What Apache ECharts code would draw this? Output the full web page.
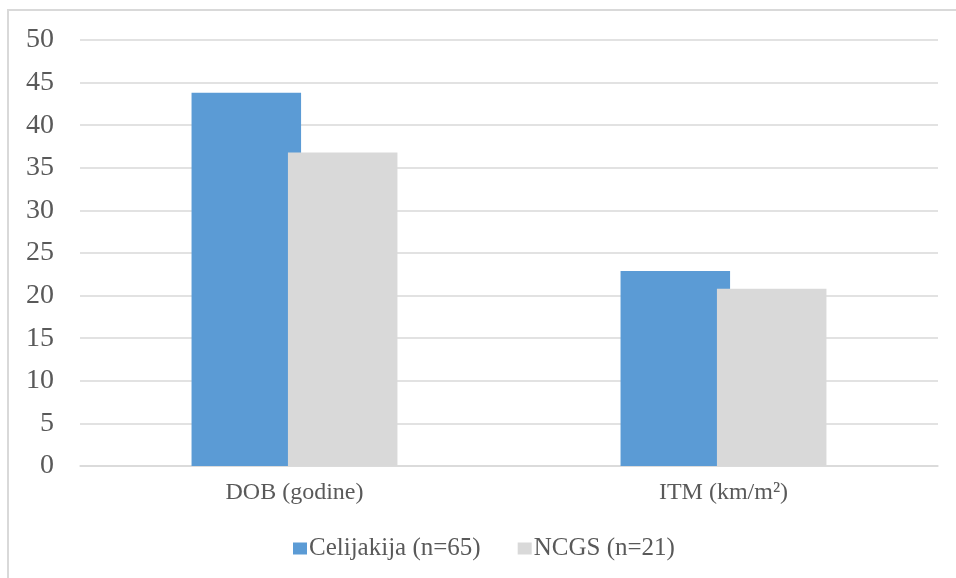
<!DOCTYPE html>
<html>
<head>
<meta charset="utf-8">
<script src="https://cdn.jsdelivr.net/npm/echarts@6/dist/echarts.min.js"></script>
<style>
html,body{margin:0;padding:0;background:#fff;}
#wrap{position:relative;width:956px;height:578px;overflow:hidden;}
#border{position:absolute;left:7px;top:9px;width:1000px;height:1000px;border:2px solid #d9d9d9;box-sizing:border-box;}
#chart{position:absolute;left:0;top:0;width:956px;height:578px;}
</style>
</head>
<body>
<div id="wrap"><div id="border"></div><div id="chart"></div></div>
<script>
const categories = ['DOB (godine)', 'ITM (km/m²)'];
const seriesNames = ['Celijakija (n=65)', 'NCGS (n=21)'];
const celijakija = [43.8, 22.9];
const ncgs = [36.8, 20.8];
const yTicks = [0, 5, 10, 15, 20, 25, 30, 35, 40, 45, 50];

const chart = echarts.init(document.getElementById('chart'), null, {renderer: 'canvas'});
const font = '"Liberation Serif", "Times New Roman", serif';
chart.setOption({
  animation: false,
  textStyle: {fontFamily: font},
  grid: {left: 80, right: 18, top: 40, bottom: 112, containLabel: false},
  legend: {
    data: seriesNames,
    top: 531,
    left: 288,
    itemWidth: 14,
    itemHeight: 12,
    itemGap: 37,
    icon: 'rect',
    textStyle: {fontFamily: font, fontSize: 25, color: '#595959', padding: [0, 0, 0, -3]}
  },
  xAxis: {
    type: 'category',
    data: categories,
    axisTick: {show: false},
    axisLine: {lineStyle: {color: '#d9d9d9', width: 1.5}},
    axisLabel: {fontFamily: font, fontSize: 24, color: '#595959', margin: 15}
  },
  yAxis: {
    type: 'value',
    min: yTicks[0],
    max: yTicks[yTicks.length - 1],
    interval: 5,
    axisLine: {show: false},
    axisTick: {show: false},
    splitLine: {lineStyle: {color: '#d9d9d9', width: 1.5}},
    axisLabel: {fontFamily: font, fontSize: 28, color: '#595959', margin: 26}
  },
  series: [
    {
      name: seriesNames[0],
      type: 'bar',
      data: celijakija,
      itemStyle: {color: '#5b9bd5'},
      barGap: '-12%',
      barCategoryGap: '52%',
      z: 2
    },
    {
      name: seriesNames[1],
      type: 'bar',
      data: ncgs,
      itemStyle: {color: '#d9d9d9'},
      z: 3
    }
  ]
});
</script>
</body>
</html>
